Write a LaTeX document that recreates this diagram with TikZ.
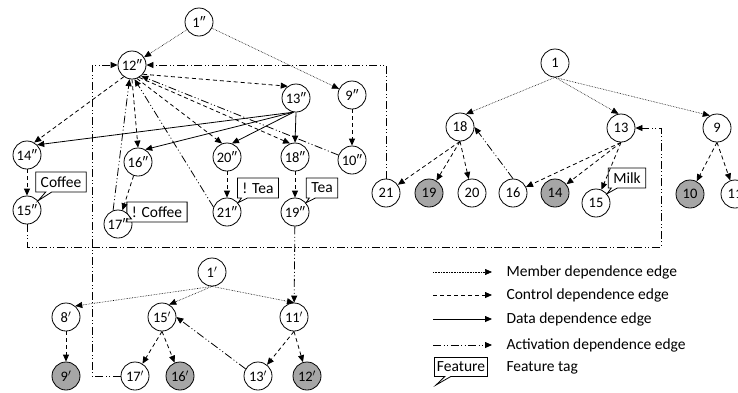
\documentclass[tikz,border=0pt]{standalone}
\usepackage{fontspec}
\setmainfont{Carlito}
\usetikzlibrary{shapes.callouts, arrows.meta, positioning, calc}
\definecolor{leafgray}{RGB}{166,166,166}
\newcommand{\prm}{$'$}

\begin{document}
\begin{tikzpicture}[x=1pt, y=-1pt,
    state/.style={circle, draw, line width=0.8pt, minimum size=28pt, inner sep=0pt, font=\fontsize{14.5}{16}\selectfont},
    shaded/.style={state, fill=leafgray},
    tag/.style={rectangle callout, draw, line width=0.8pt, fill=white, minimum height=20pt, inner xsep=5pt, inner ysep=1pt, callout pointer width=6pt, font=\fontsize{15.5}{17}\selectfont},
    member/.style={->, >={Triangle[length=7pt,width=6pt]}, line width=0.6pt, densely dotted},
    control/.style={->, >={Triangle[length=7pt,width=6pt]}, line width=0.8pt, dash pattern=on 4pt off 3pt},
    data/.style={->, >={Triangle[length=7pt,width=6pt]}, line width=0.8pt},
    activ/.style={->, >={Triangle[length=7pt,width=6pt]}, line width=0.8pt, dash pattern=on 8pt off 2.5pt on 1pt off 2.5pt on 1pt off 2.5pt},
    lbl/.style={anchor=west, font=\fontsize{15.5}{17}\selectfont},
]
\useasboundingbox (0,0) rectangle (738,392);

% double-primed graph
\node[state] (v1pp) at (199,22) {1″};
\node[state] (v12pp) at (132,65) {12″};
\node[state] (v13pp) at (296,98) {13″};
\node[state] (v9pp) at (352,95) {9″};
\node[state] (v14pp) at (27,155) {14″};
\node[state] (v15pp) at (27,210) {15″};
\node[state] (v16pp) at (138,162) {16″};
\node[state] (v17pp) at (118,224) {17″};
\node[state] (v20pp) at (227,157) {20″};
\node[state] (v21pp) at (227,212) {21″};
\node[state] (v18pp) at (295,157) {18″};
\node[state] (v19pp) at (295,212) {19″};
\node[state] (v10pp) at (352,160) {10″};

% plain graph
\node[state] (v1) at (555,63) {1};
\node[state] (v18) at (460,127) {18};
\node[state] (v13) at (621,128) {13};
\node[state] (v9) at (717,128) {9};
\node[state] (v21) at (386,193) {21};
\node[shaded] (v19) at (429,193) {19};
\node[state] (v20) at (472,193) {20};
\node[state] (v16) at (513,193) {16};
\node[shaded] (v14) at (555,193) {14};
\node[state] (v15) at (596,203) {15};
\node[shaded] (v10) at (690,194) {10};
\node[state] (v11) at (735,194) {11};

% primed graph
\node[state] (v1p) at (212,272) {1\prm};
\node[state] (v8p) at (66,317) {8\prm};
\node[state] (v15p) at (162,317) {15\prm};
\node[state] (v11p) at (294,317) {11\prm};
\node[shaded] (v9p) at (66,376) {9\prm};
\node[state] (v17p) at (135,376) {17\prm};
\node[shaded] (v16p) at (180,376) {16\prm};
\node[state] (v13p) at (258,376) {13\prm};
\node[shaded] (v12p) at (307,376) {12\prm};

% feature tags
\node[tag, callout absolute pointer={(v15pp.40)}] (tcoffee) at (61,182) {Coffee};
\node[tag, callout absolute pointer={(v17pp.20)}] (tnocoffee) at (157,212) {! Coffee};
\node[tag, callout absolute pointer={(v21pp.40)}] (tnotea) at (258,188) {! Tea};
\node[tag, callout absolute pointer={(v19pp.40)}] (ttea) at (322,188) {Tea};
\node[tag, callout absolute pointer={(v15.40)}] (tmilk) at (627,178) {Milk};

% edges of the double-primed graph
\draw[member] (v1pp) -- (v12pp);
\draw[member] (v1pp) -- (v9pp);
\draw[control] (v12pp.-40) -- (v13pp.125);
\draw[control] (v12pp.235) -- (v14pp.60);
\draw[control] (v12pp.south) -- (v16pp.north);
\draw[control] (v12pp.-70) -- (v20pp.110);
\draw[control] (v12pp.-60) -- (v18pp.110);
\draw[data] (v13pp.-100) -- (v14pp.45);
\draw[data] (v13pp.-100) -- (v16pp.60);
\draw[data] (v13pp.-100) -- (v20pp.70);
\draw[data] (v13pp.south) -- (v18pp.north);
\draw[control] (v14pp) -- (v15pp);
\draw[control] (v16pp) -- (v17pp);
\draw[control] (v20pp) -- (v21pp);
\draw[control] (v18pp) -- (v19pp);
\draw[control] (v9pp) -- (v10pp);
\draw[activ] (v17pp.110) -- (v12pp.-100);
\draw[activ] (v21pp.160) -- (v12pp.-80);
\draw[activ] (v10pp.160) -- (v12pp.-50);

% activation edges between graphs
\coordinate (cornerA) at (92,65);
\coordinate (cornerB) at (661,247);
\draw[activ] (v17p.west) -| (cornerA) -- (v12pp.west);
\draw[activ] (v21.north) |- (v12pp.east);
\draw[activ] (v15pp.south) |- (cornerB) |- (v13.east);
\draw[activ] (v19pp) -- (v11p);

% edges of the plain graph
\draw[member] (v1.south) -- (v18.65);
\draw[member] (v1.south) -- (v13.100);
\draw[member] (v1.south) -- (v9.120);
\draw[control] (v18.south) -- (v21);
\draw[control] (v18.south) -- (v19);
\draw[control] (v18.south) -- (v20);
\draw[control] (v13.south) -- (v16);
\draw[control] (v13.south) -- (v14);
\draw[control] (v13.south) -- (v15);
\draw[control] (v9.south) -- (v10);
\draw[control] (v9.south) -- (v11);
\draw[activ] (v16.north) -- (v18.east);

% edges of the primed graph
\draw[member] (v1p.south) -- (v8p.50);
\draw[member] (v1p.south) -- (v15p.60);
\draw[member] (v1p.south) -- (v11p.north);
\draw[control] (v8p) -- (v9p);
\draw[control] (v15p.south) -- (v17p);
\draw[control] (v15p.south) -- (v16p);
\draw[control] (v11p.south) -- (v13p);
\draw[control] (v11p.south) -- (v12p);
\draw[activ] (v13p.150) -- (v15p.east);

% legend
\foreach \sty/\yy/\txt in {member/272/Member dependence edge, control/295/Control dependence edge, data/319/Data dependence edge, activ/345/Activation dependence edge}{
  \coordinate (\sty-a) at (433,\yy);
  \coordinate (\sty-b) at (492,\yy);
  \draw[\sty] (\sty-a) -- (\sty-b);
  \node[lbl] (\sty-txt) at (503,\yy) {\txt};
}
\coordinate (legtip) at (436,385);
\node[tag, inner xsep=2.5pt, minimum height=19pt, callout absolute pointer={(legtip)}] (legtag) at (461,367) {Feature};
\node[lbl] (legtagtxt) at (503,368) {Feature tag};
\end{tikzpicture}
\end{document}
